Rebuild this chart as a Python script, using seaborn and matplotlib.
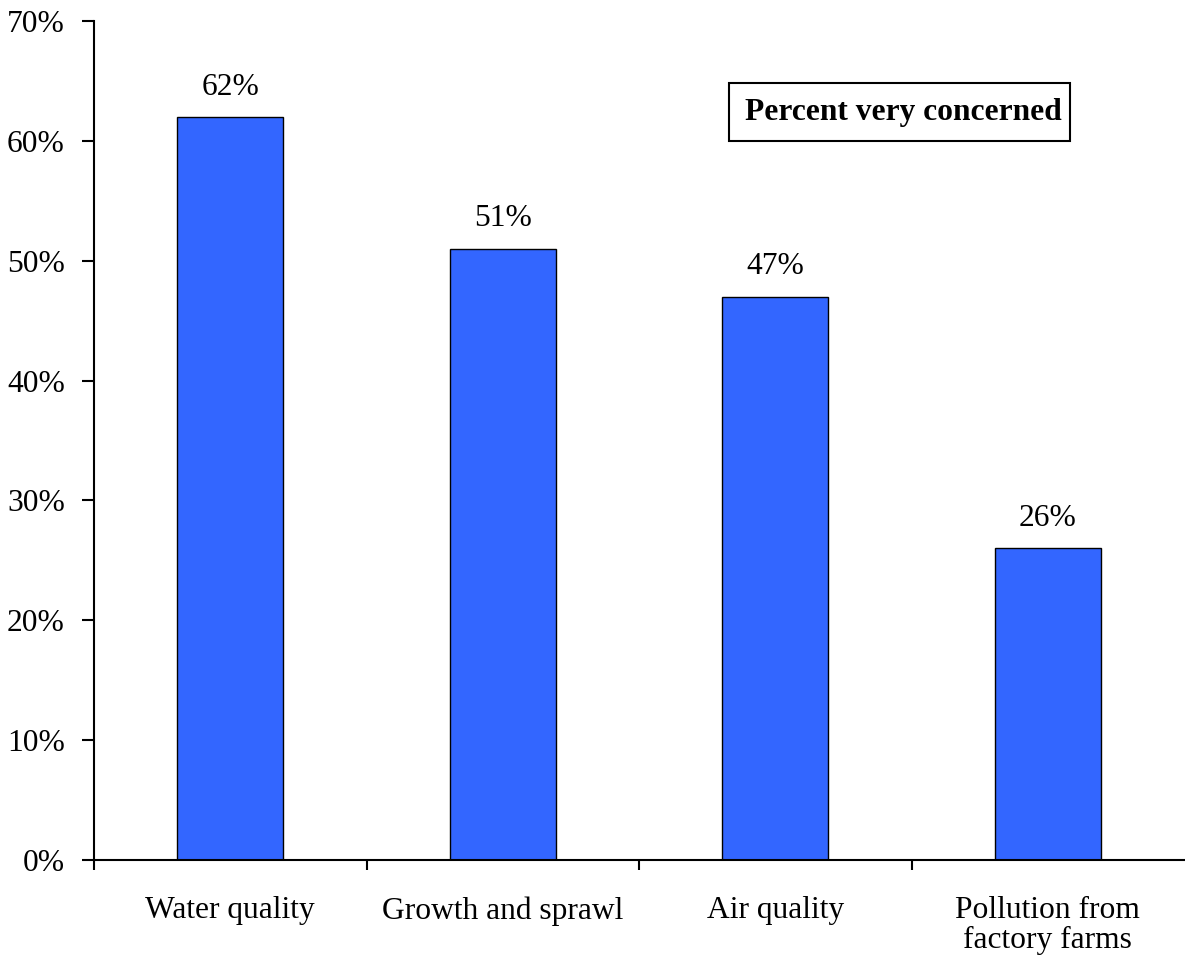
import numpy as np
import pandas as pd
import matplotlib
matplotlib.use("Agg")
import matplotlib.pyplot as plt
from matplotlib.patches import Rectangle
import seaborn as sns

# data
categories = ["Water quality", "Growth and sprawl", "Air quality", "Pollution from\nfactory farms"]
values = [62, 51, 47, 26]
yticks = [0, 10, 20, 30, 40, 50, 60, 70]

df = pd.DataFrame({"issue": categories, "pct": values})

sns.set_theme(style="white", rc={"text.color": "black", "xtick.color": "black",
                                 "ytick.color": "black", "axes.edgecolor": "black"})
plt.rcParams['font.family'] = ['Liberation Serif', 'DejaVu Serif']

FS = 22.7

fig = plt.figure(figsize=(11.85, 9.64), dpi=100)
ax = fig.add_axes([94 / 1185, 104 / 964, 1090 / 1185, 839 / 964])

sns.barplot(data=df, x="issue", y="pct", ax=ax, color="#3366FF", saturation=1,
            width=0.39, edgecolor="black", linewidth=1)

ax.set_xlim(-0.5, 3.5)
ax.set_ylim(0, 70)
ax.set_yticks(yticks)
ax.set_yticklabels([f"{t}%" for t in yticks])
ax.set_xlabel("")
ax.set_ylabel("")

# value labels above the bars
ax.bar_label(ax.containers[0], labels=[f"{v}%" for v in values], padding=11, fontsize=FS)

# category boundaries get the tick marks, labels sit centred without ticks
ax.set_xticks(np.arange(len(categories)) - 0.5, minor=True)
ax.tick_params(axis="x", which="major", length=0, pad=26, labelsize=FS)
ax.tick_params(axis="x", which="minor", direction="out", length=7, width=1.5, bottom=True)
ax.tick_params(axis="y", direction="out", length=8.5, width=1.5, left=True, pad=12.5, labelsize=FS)
for lab in ax.get_xticklabels():
    lab.set_linespacing(1.02)

for side in ["top", "right"]:
    ax.spines[side].set_visible(False)
for side in ["left", "bottom"]:
    ax.spines[side].set_linewidth(1.5)

# boxed legend-like note
ax.add_patch(Rectangle((0.5826, 0.857), 0.3128, 0.0691, transform=ax.transAxes,
                       facecolor="white", edgecolor="black", linewidth=1.5, clip_on=False))
ax.text(0.7425, 0.8915, "Percent very concerned", transform=ax.transAxes,
        ha="center", va="center", fontsize=FS, fontweight="bold")

fig.savefig("out.png", dpi=100)
